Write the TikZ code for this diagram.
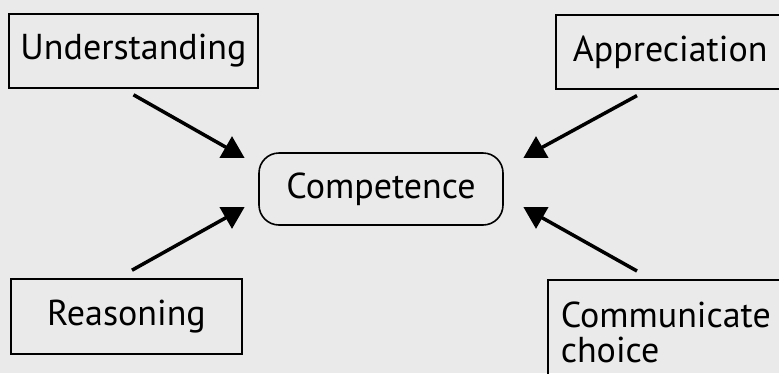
\documentclass[tikz,border=0pt]{standalone}
\usepackage{fontspec}
\setmainfont{PT Sans}
\usetikzlibrary{shapes.geometric}
\definecolor{bgc}{HTML}{EAEAEA}
\begin{document}
\begin{tikzpicture}[x=1pt,y=-1pt,
  box/.style={draw=black,line width=1.6pt,inner sep=0pt,font=\fontsize{36}{41}\selectfont},
  tri/.style={regular polygon,regular polygon sides=3,fill=black,inner sep=0pt,minimum size=29pt},
  conn/.style={line width=3.5pt,black}]
\fill[bgc] (0,0) rectangle (779,373);
\useasboundingbox (0,0) rectangle (779,373);
\node[box,minimum width=249pt,minimum height=74pt] (u) at (133.5,51) {Understanding};
\node[box,anchor=north west,minimum height=74pt,text width=230pt,align=left,inner xsep=17pt] (a) at (555,14) {Appreciation};
\node[box,rounded corners=20pt,minimum width=244pt,minimum height=72pt] (c) at (381,189) {Competence};
\node[box,minimum width=231pt,minimum height=75pt] (r) at (126.5,316.5) {Reasoning};
\node[box,anchor=north west,minimum height=130pt,text width=240pt,align=left,inner xsep=13pt,inner ysep=0pt,text depth=60pt] (m) at (547,279) {\vspace*{-6pt}Communicate\\choice};
\node[tri] (t1) at (232,150.7) {};
\node[tri] (t2) at (536,150.7) {};
\node[tri,shape border rotate=180] (t3) at (232,214.3) {};
\node[tri,shape border rotate=180] (t4) at (536,214.3) {};
\draw[conn] ([yshift=-6pt]u.south) -- (t1.center);
\draw[conn] ([xshift=82pt,yshift=-6pt]a.south west) -- (t2.center);
\draw[conn] ([xshift=5.5pt,yshift=8pt]r.north) -- (t3.center);
\draw[conn] ([xshift=90pt,yshift=8pt]m.north west) -- (t4.center);
\end{tikzpicture}
\end{document}
